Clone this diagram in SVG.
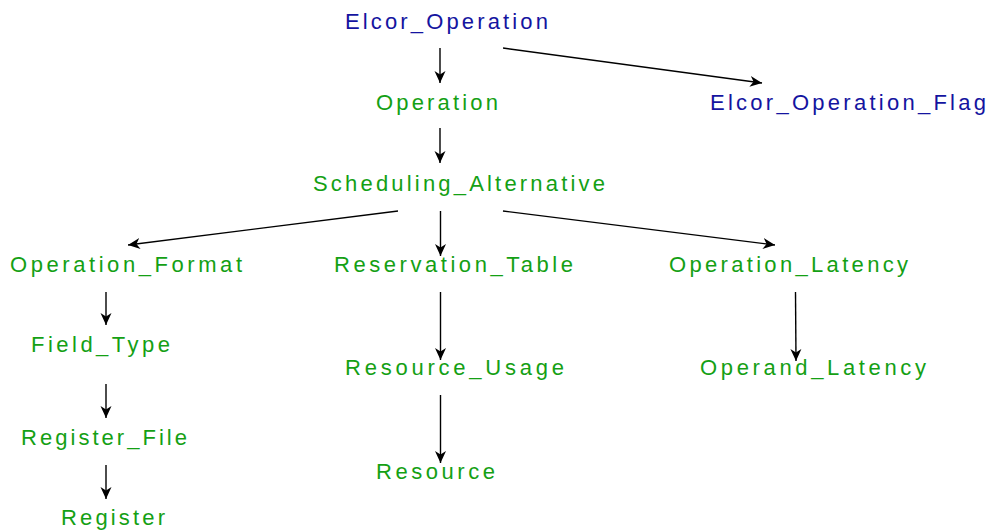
<svg xmlns="http://www.w3.org/2000/svg" width="992" height="531" viewBox="0 0 992 531">
<style>
text{font-family:"Liberation Sans",Arial,sans-serif;font-size:22px}
.b{fill:#1414a0}
.g{fill:#14a014}
.c line{stroke:#000;stroke-width:1.4;marker-end:url(#ah)}
</style>
<defs>
<marker id="ah" markerWidth="13" markerHeight="13" viewBox="0 0 13 13" refX="12" refY="6.5" orient="auto" markerUnits="userSpaceOnUse">
<path d="M0,1 L12,6.5 L0,12 L3.5,6.5 z" fill="#000"/>
</marker>
</defs>
<rect width="992" height="531" fill="#fff"/>
<g id="n_elcor_operation"><text class="b" x="345" y="29" textLength="203" lengthAdjust="spacing">Elcor_Operation</text></g>
<g id="n_operation"><text class="g" x="376" y="110" textLength="122" lengthAdjust="spacing">Operation</text></g>
<g id="n_elcor_operation_flag"><text class="b" x="710" y="110" textLength="276" lengthAdjust="spacing">Elcor_Operation_Flag</text></g>
<g id="n_scheduling_alternative"><text class="g" x="313" y="191" textLength="292" lengthAdjust="spacing">Scheduling_Alternative</text></g>
<g id="n_operation_format"><text class="g" x="10" y="272" textLength="232" lengthAdjust="spacing">Operation_Format</text></g>
<g id="n_reservation_table"><text class="g" x="334" y="272" textLength="239" lengthAdjust="spacing">Reservation_Table</text></g>
<g id="n_operation_latency"><text class="g" x="669" y="272" textLength="239" lengthAdjust="spacing">Operation_Latency</text></g>
<g id="n_field_type"><text class="g" x="31" y="352" textLength="139" lengthAdjust="spacing">Field_Type</text></g>
<g id="n_resource_usage"><text class="g" x="345" y="375" textLength="219" lengthAdjust="spacing">Resource_Usage</text></g>
<g id="n_operand_latency"><text class="g" x="700" y="375" textLength="226" lengthAdjust="spacing">Operand_Latency</text></g>
<g id="n_register_file"><text class="g" x="21" y="445" textLength="166" lengthAdjust="spacing">Register_File</text></g>
<g id="n_resource"><text class="g" x="376" y="479" textLength="119" lengthAdjust="spacing">Resource</text></g>
<g id="n_register"><text class="g" x="61" y="525" textLength="104" lengthAdjust="spacing">Register</text></g>
<g id="connectors" class="c">
<line x1="440" y1="48" x2="440" y2="83"/>
<line x1="503" y1="48" x2="762" y2="83"/>
<line x1="440" y1="128" x2="440" y2="163"/>
<line x1="398" y1="211" x2="128" y2="245"/>
<line x1="440.5" y1="211" x2="440.5" y2="256"/>
<line x1="503" y1="211" x2="775" y2="245"/>
<line x1="795.5" y1="292" x2="796" y2="361"/>
<line x1="106" y1="292" x2="106" y2="325"/>
<line x1="106" y1="384" x2="106" y2="418"/>
<line x1="106" y1="465" x2="106" y2="499"/>
<line x1="440.5" y1="292" x2="440.5" y2="360"/>
<line x1="440.5" y1="395" x2="440.5" y2="463"/>
</g>
</svg>
